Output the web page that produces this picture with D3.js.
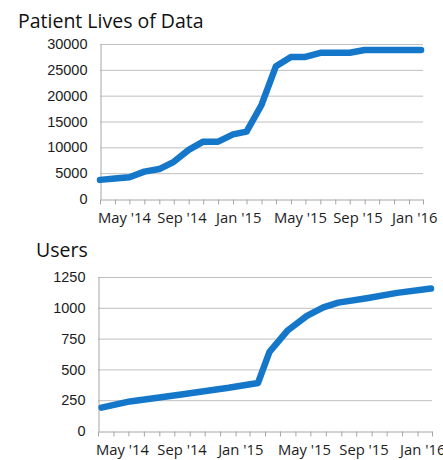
<!DOCTYPE html>
<html>
<head>
<meta charset="utf-8">
<script src="https://cdn.jsdelivr.net/npm/d3@7"></script>
<style>
  body { margin: 0; background: white; }
  svg { display: block; font-family: "Open Sans", "Noto Sans", sans-serif; }
</style>
</head>
<body>
<script>
// patient lives, roughly monthly
const livesDates = ["2014-05-01","2014-06-01","2014-07-01","2014-08-01","2014-09-01","2014-10-01",
  "2014-11-01","2014-12-01","2015-01-01","2015-02-01","2015-03-01","2015-04-01","2015-05-01",
  "2015-06-01","2015-07-01","2015-08-01","2015-09-01","2015-10-01","2015-11-01","2015-12-01",
  "2016-01-01","2016-02-01","2016-02-26"]
const livesValues = [3700, 3950, 4200, 5300, 5800, 7200, 9500, 11100, 11100, 12500, 13050, 18200,
  25700, 27500, 27500, 28300, 28300, 28300, 28850, 28850, 28850, 28850, 28850]
const livesTicks = [0, 5000, 10000, 15000, 20000, 25000, 30000]

// users, irregular dates
const usersDates = ["2014-05-08","2014-07-04","2014-10-15","2015-01-18","2015-03-18","2015-04-10",
  "2015-05-17","2015-06-24","2015-07-27","2015-08-26","2015-10-22","2015-12-22","2016-02-28"]
const usersValues = [190, 240, 297, 351, 390, 643, 818, 935, 1003, 1042, 1078, 1121, 1156]
const usersTicks = [0, 250, 500, 750, 1000, 1250]

const axisStart = "2014-05-01", axisEnd = "2016-03-01"

const [width, height] = [443, 460]
const colors = {
    line: "#1577c9",
    grid: "#bfbfbf",
    axis: "#a6a6a6",
    text: "#1c1c1c"
}
const parse = d3.utcParse("%Y-%m-%d")
const fmt = d3.utcFormat("%b '%y")

const svg = d3.select("body").append("svg")
    .attr("width", width)
    .attr("height", height)
    .style("overflow", "hidden")

function panel(opt) {
    const g = svg.append("g")

    const x = d3.scaleUtc()
        .domain([parse(axisStart), parse(axisEnd)])
        .range([opt.left, opt.right])
    const y = d3.scaleLinear()
        .domain([0, d3.max(opt.ticks)])
        .range([opt.bottom, opt.top])

    g.append("text")
        .attr("x", opt.titleX)
        .attr("y", opt.titleY)
        .attr("font-size", 19.5)
        .attr("fill", "#111")
        .text(opt.title)

    // grid
    g.append("g").selectAll("line")
        .data(opt.ticks.slice(1))
        .join("line")
        .attr("x1", opt.left).attr("x2", opt.right)
        .attr("y1", d => y(d) + 0.5).attr("y2", d => y(d) + 0.5)
        .attr("stroke", colors.grid)

    // y axis
    const ya = g.append("g")
        .attr("transform", `translate(${opt.left + 0.5},0)`)
        .call(d3.axisLeft(y).tickValues(opt.ticks).tickSize(0).tickPadding(13).tickFormat(d3.format("d")))
    ya.select(".domain").attr("stroke", colors.axis)
    ya.selectAll("text").attr("font-size", 14.5).attr("fill", colors.text).attr("font-family", null)

    // x axis, a tick per month, label every 4th
    const months = d3.utcMonth.range(parse(axisStart), d3.utcMonth.offset(parse(axisEnd), 1))
    const xa = g.append("g")
        .attr("transform", `translate(0,${opt.bottom + 0.5})`)
        .call(d3.axisBottom(x).tickValues(months).tickSize(5).tickSizeOuter(0).tickFormat(""))
    xa.select(".domain").attr("stroke", colors.axis)
    xa.selectAll(".tick line").attr("stroke", colors.axis)

    g.append("g").selectAll("text")
        .data(months.filter(d => (d.getUTCMonth() - 4 + 12) % 4 === 0))
        .join("text")
        .attr("x", d => x(d) - 2)
        .attr("y", opt.bottom + 24)
        .attr("font-size", 14.8)
        .attr("fill", colors.text)
        .text(fmt)

    const line = d3.line()
        .x(d => x(d[0]))
        .y(d => y(d[1]))
    g.append("path")
        .datum(opt.dates.map((d, i) => [parse(d), opt.values[i]]))
        .attr("d", line)
        .attr("fill", "none")
        .attr("stroke", colors.line)
        .attr("stroke-width", 6.5)
        .attr("stroke-linejoin", "round")
        .attr("stroke-linecap", "round")
}

panel({ title: "Patient Lives of Data", titleX: 18, titleY: 28,
    left: 100, right: 423, top: 44, bottom: 199,
    ticks: livesTicks, dates: livesDates, values: livesValues })

panel({ title: "Users", titleX: 36, titleY: 257,
    left: 98, right: 432, top: 277, bottom: 431,
    ticks: usersTicks, dates: usersDates, values: usersValues })
</script>
</body>
</html>
